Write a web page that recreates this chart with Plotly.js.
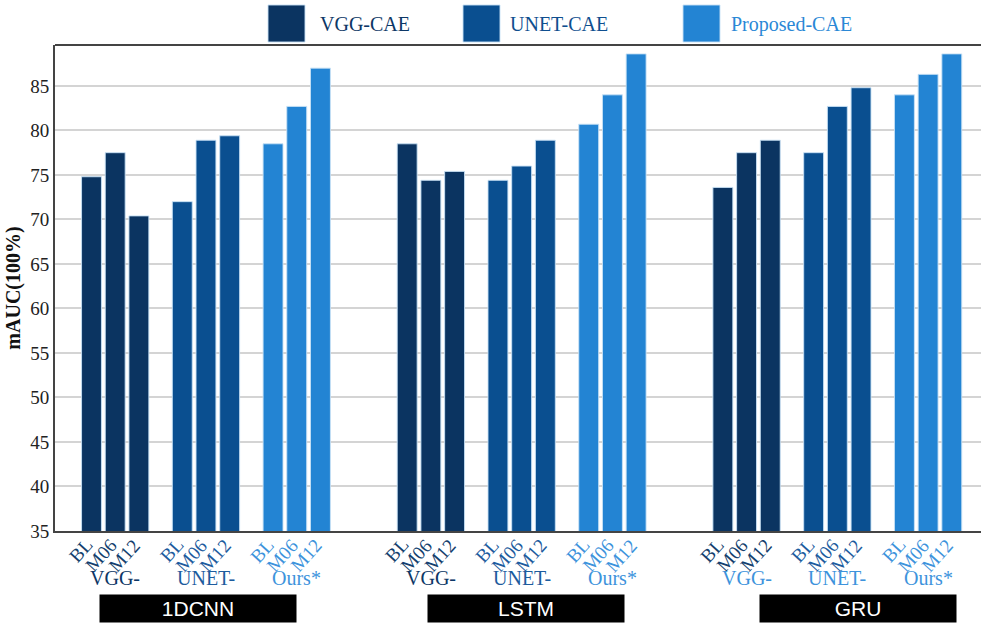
<!DOCTYPE html>
<html>
<head>
<meta charset="utf-8">
<script src="https://cdn.plot.ly/plotly-3.0.1.min.js"></script>
<style>html,body{margin:0;padding:0;background:#fff;}#chart{width:981px;height:624px;}</style>
</head>
<body>
<div id="chart"></div>
<script>
// ---- data ----
const clusters = ['1DCNN', 'LSTM', 'GRU'];
const timepoints = ['BL', 'M06', 'M12'];
const methodNames = ['VGG-CAE', 'UNET-CAE', 'Proposed-CAE'];
const methodShort = ['VGG-', 'UNET-', 'Ours*'];
const vggCAE = [74.8, 77.5, 70.4, 78.5, 74.4, 75.4, 73.6, 77.5, 78.9];
const unetCAE = [72.0, 78.9, 79.4, 74.4, 76.0, 78.9, 77.5, 82.7, 84.8];
const proposedCAE = [78.5, 82.7, 87.0, 80.7, 84.0, 88.6, 84.0, 86.3, 88.6];
const yTicks = [35, 40, 45, 50, 55, 60, 65, 70, 75, 80, 85];

// ---- style / layout ----
const series = [vggCAE, unetCAE, proposedCAE];
const barColors = ['#0b3461', '#0a4f90', '#2384d3'];
const tickColors = ['#143f6e', '#1d5c9e', '#3d93dc'];
const legendTextColors = ['#0d3766', '#0f4f8f', '#2a88d6'];
const shortLabelColors = [
  ['#0d3766', '#1d5c9e', '#3d93dc'],
  ['#0d3766', '#1d5c9e', '#3d93dc'],
  ['#3d93dc', '#3d93dc', '#3d93dc']
];
const CLUSTER_STEP = 13.32, METHOD_STEP = 3.83, BAR_W = 0.84;
const pos = (c, m, t) => c * CLUSTER_STEP + m * METHOD_STEP + t;

const traces = series.map((vals, m) => {
  const xs = [];
  clusters.forEach((_, c) => timepoints.forEach((_, t) => xs.push(pos(c, m, t))));
  return {
    type: 'bar', name: methodNames[m], x: xs, y: vals, width: BAR_W,
    marker: {color: barColors[m], line: {color: 'rgba(200,225,245,0.9)', width: 1}},
    showlegend: false, hoverinfo: 'y'
  };
});

const W = 981, H = 624, L = 55, R = 0, T = 45, B = 93;
const pw = W - L - R, ph = H - T - B;
const px = x => (x - L) / pw;
const py = y => (H - B - y) / ph;

const annotations = [];
const shapes = [];
// rotated timepoint labels under each bar
clusters.forEach((_, c) => methodNames.forEach((_, m) => timepoints.forEach((tp, t) => {
  annotations.push({
    x: pos(c, m, t), xref: 'x', y: py(532), yref: 'paper', text: tp, showarrow: false,
    textangle: -48, xanchor: 'right', yanchor: 'top', xshift: 8,
    font: {family: 'Liberation Serif, Times New Roman, serif', size: 19, color: tickColors[m]}
  });
})));
// method short labels
clusters.forEach((_, c) => methodShort.forEach((lab, m) => {
  annotations.push({
    x: pos(c, m, 1), xref: 'x', y: py(578), yref: 'paper', text: lab, showarrow: false,
    xanchor: 'center', yanchor: 'middle',
    font: {family: 'Liberation Serif, Times New Roman, serif', size: 20, color: shortLabelColors[c][m]}
  });
}));
// cluster boxes
const boxCenters = [198, 526, 858];
clusters.forEach((name, c) => {
  annotations.push({
    x: px(boxCenters[c]), xref: 'paper', y: py(608.5), yref: 'paper', text: name, showarrow: false,
    xanchor: 'center', yanchor: 'middle', bgcolor: '#000', width: 194, height: 25, borderpad: 1,
    font: {family: 'Liberation Sans, Arial, sans-serif', size: 21, color: '#fff'}
  });
});
// legend
const legSq = [268, 463, 683];
const legTx = [318, 508, 729];
methodNames.forEach((name, m) => {
  shapes.push({
    type: 'rect', xref: 'paper', yref: 'paper',
    x0: px(legSq[m]), x1: px(legSq[m] + 37), y0: py(42), y1: py(5),
    fillcolor: barColors[m], line: {color: 'rgba(200,225,245,0.9)', width: 1}
  });
  annotations.push({
    x: px(legTx[m]), xref: 'paper', y: py(24), yref: 'paper', text: name, showarrow: false,
    xanchor: 'left', yanchor: 'middle',
    font: {family: 'Liberation Serif, Times New Roman, serif', size: 20, color: legendTextColors[m]}
  });
});
// top border
shapes.push({type: 'line', xref: 'paper', yref: 'paper', x0: 0, x1: 1, y0: 1, y1: 1,
  line: {color: '#444', width: 2}});

const layout = {
  width: W, height: H,
  margin: {l: L, r: R, t: T, b: B, pad: 0},
  paper_bgcolor: '#fff', plot_bgcolor: '#fff',
  barmode: 'overlay',
  showlegend: false,
  font: {family: 'Liberation Serif, Times New Roman, serif', color: '#222'},
  xaxis: {
    range: [(L - 91.5) / 23.7, (W - 91.5) / 23.7],
    showticklabels: false,
    showline: true, linecolor: '#444', linewidth: 2, showgrid: false, zeroline: false,
    ticks: '', fixedrange: true, automargin: false
  },
  yaxis: {
    range: [35, 89.6],
    tickmode: 'array', tickvals: yTicks,
    tickfont: {family: 'Liberation Serif, Times New Roman, serif', size: 19, color: '#222'},
    showline: true, linecolor: '#444', linewidth: 2,
    showgrid: true, gridcolor: '#d4d4d4', gridwidth: 2, zeroline: false,
    ticks: '', ticklen: 0,
    title: {text: '<b>mAUC(100%)</b>', font: {family: 'Liberation Serif, Times New Roman, serif', size: 20, color: '#111'}, standoff: 4}
  },
  annotations: annotations,
  shapes: shapes
};

Plotly.newPlot('chart', traces, layout, {displayModeBar: false, staticPlot: true});
</script>
</body>
</html>
